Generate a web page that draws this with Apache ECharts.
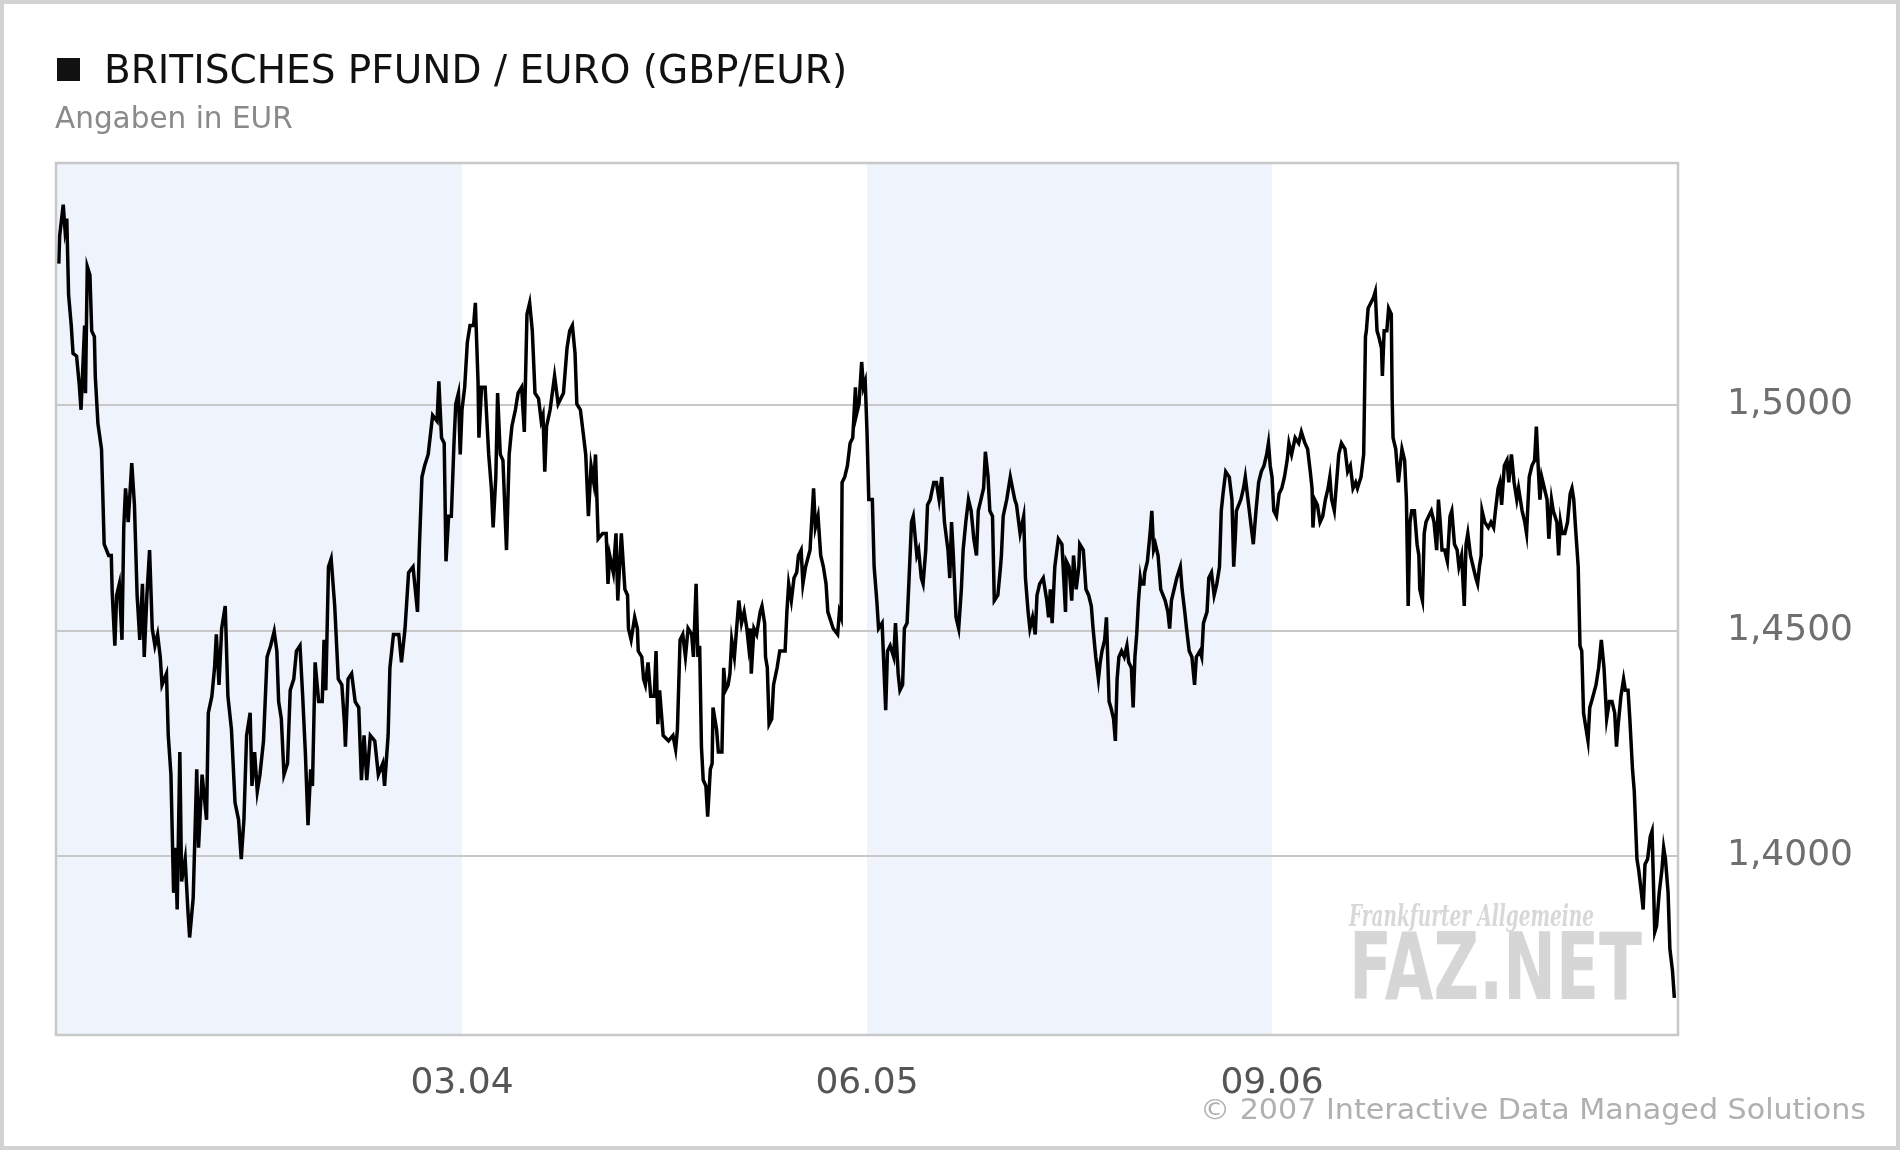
<!DOCTYPE html>
<html><head><meta charset="utf-8">
<script src="https://cdn.jsdelivr.net/npm/echarts@6/dist/echarts.min.js"></script>
<style>html,body{margin:0;padding:0;background:#fff}#c{width:1900px;height:1150px}</style>
</head><body><div id="c"></div>
<script>
// x values: days since start of the 5-year window (Dec 2002 - Dec 2007)
const xMaxDay = 1820;
const tickDays = [455, 910, 1365];
const tickLabels = ['03.04', '06.05', '09.06'];
const yTicks = [1.40, 1.45, 1.50];
const yMin = 1.3605, yMax = 1.5534;

const rates2003a = [[2,1.5313],[3,1.5375],[7,1.5444],[9,1.5388],[11,1.5413],[13,1.5245],[16,1.5176],[18,1.5114],[22,1.5108],[25,1.5045],[27,1.4989],[31,1.5176],[32,1.5026],[34,1.5307],[37,1.5288],[39,1.5164],[42,1.5151],[43,1.5064],[46,1.4958],[50,1.4902],[53,1.4691],[58,1.4666],[61,1.4666],[62,1.4585],[65,1.4466],[67,1.4578],[70,1.4603],[73,1.4479],[75,1.4728],[77,1.4815],[80,1.4740],[84,1.4871],[87,1.4778],[90,1.4578],[93,1.4479],[96,1.4603],[98,1.4441],[101,1.4578],[104,1.4678],[107,1.4504],[110,1.4466],[113,1.4491],[116,1.4441],[118,1.4379],[123,1.4404],[125,1.4267],[128,1.4180],[131,1.3918],[133,1.4018],[135,1.3881],[138,1.4230],[140,1.3943],[144,1.3993],[147,1.3881],[149,1.3819],[153,1.3906],[157,1.4192],[159,1.4018],[163,1.4180],[168,1.4080],[170,1.4317],[174,1.4354],[177,1.4417],[179,1.4491],[182,1.4379],[185,1.4504],[189,1.4554],[192,1.4354],[196,1.4280],[200,1.4118],[204,1.4080],[207,1.3993],[210,1.4080],[213,1.4267],[217,1.4317],[219,1.4155],[222,1.4230],[225,1.4143],[228,1.4180],[232,1.4255],[236,1.4441],[240,1.4466],[244,1.4498],[247,1.4454],[249,1.4342],[252,1.4304],[255,1.4180],[259,1.4205],[262,1.4367],[266,1.4392],[269,1.4454],[273,1.4466],[276,1.4354],[279,1.4230],[282,1.4068],[285,1.4192],[287,1.4155],[290,1.4429],[294,1.4342],[298,1.4342],[300,1.4479],[302,1.4367],[305,1.4641]];
const rates2003b = [[308,1.4659],[312,1.4554],[316,1.4392],[320,1.4379],[323,1.4292],[324,1.4242],[327,1.4392],[331,1.4404],[335,1.4342],[339,1.4329],[342,1.4168],[345,1.4267],[348,1.4168],[352,1.4267],[357,1.4255],[361,1.4180],[366,1.4205],[368,1.4155],[372,1.4267],[374,1.4417],[378,1.4491],[384,1.4491],[387,1.4429],[391,1.4504],[395,1.4628],[400,1.4641],[405,1.4541],[407,1.4678],[410,1.4840],[413,1.4865],[417,1.4890],[422,1.4977],[427,1.4964],[429,1.5052],[432,1.4927],[435,1.4915],[437,1.4653],[440,1.4753],[443,1.4753],[446,1.4915],[448,1.5002],[451,1.5026],[453,1.4890],[455,1.4989],[458,1.5039],[461,1.5139],[464,1.5176],[468,1.5176],[470,1.5226],[473,1.5052],[474,1.4927],[477,1.5039],[481,1.5039],[485,1.4890],[488,1.4815],[490,1.4728],[493,1.4840],[495,1.5026],[498,1.4890],[501,1.4877],[505,1.4678],[508,1.4890],[511,1.4952],[515,1.4989],[518,1.5026],[522,1.5039],[525,1.4940],[528,1.5201],[531,1.5226],[534,1.5164],[537,1.5026],[541,1.5014],[544,1.4964],[546,1.4977],[548,1.4852],[550,1.4952],[554,1.4989],[559,1.5064],[563,1.5002],[569,1.5026],[573,1.5126],[576,1.5164],[579,1.5176],[582,1.5114],[584,1.5002],[588,1.4989],[591,1.4940],[594,1.4890],[597,1.4753],[600,1.4865],[603,1.4828],[605,1.4890],[608,1.4703]];
const rates2004 = [[613,1.4715],[617,1.4715],[619,1.4603],[621,1.4666],[625,1.4628],[628,1.4715],[630,1.4566],[634,1.4715],[636,1.4715],[638,1.4591],[641,1.4578],[642,1.4504],[645,1.4479],[649,1.4529],[652,1.4504],[653,1.4454],[657,1.4441],[659,1.4392],[661,1.4379],[664,1.4429],[667,1.4354],[671,1.4354],[673,1.4454],[675,1.4292],[677,1.4367],[681,1.4267],[687,1.4255],[692,1.4267],[695,1.4236],[697,1.4280],[700,1.4479],[703,1.4491],[706,1.4441],[709,1.4504],[713,1.4491],[715,1.4441],[718,1.4603],[720,1.4441],[722,1.4466],[724,1.4242],[726,1.4168],[729,1.4155],[731,1.4087],[734,1.4192],[736,1.4205],[737,1.4329],[741,1.4280],[743,1.4230],[747,1.4230],[749,1.4417],[751,1.4367],[754,1.4379],[756,1.4404],[758,1.4479],[761,1.4441],[764,1.4516],[766,1.4566],[769,1.4516],[772,1.4541],[775,1.4504],[777,1.4466],[779,1.4504],[780,1.4404],[783,1.4504],[786,1.4491],[790,1.4541],[792,1.4554],[795,1.4516],[796,1.4441],[798,1.4417],[800,1.4292],[803,1.4304],[805,1.4379],[809,1.4417],[812,1.4454],[818,1.4454],[820,1.4541],[822,1.4603],[825,1.4566],[828,1.4616],[831,1.4628],[833,1.4666],[836,1.4678],[838,1.4603],[841,1.4641],[846,1.4678],[850,1.4815],[852,1.4728],[855,1.4753],[858,1.4666],[861,1.4641],[864,1.4603],[866,1.4541],[868,1.4541],[872,1.4504],[877,1.4491],[879,1.4541],[881,1.4529],[882,1.4828],[885,1.4840],[888,1.4865],[891,1.4915],[894,1.4927],[897,1.5039],[898,1.4977],[901,1.5002],[904,1.5095],[906,1.5039],[908,1.5052],[910,1.4940],[912,1.4790]];
const rates2005 = [[916,1.4790],[918,1.4641],[921,1.4566],[923,1.4504],[927,1.4516],[928,1.4466],[931,1.4323],[933,1.4454],[936,1.4466],[940,1.4441],[942,1.4516],[945,1.4404],[947,1.4367],[950,1.4379],[952,1.4504],[955,1.4516],[957,1.4603],[960,1.4740],[962,1.4753],[966,1.4666],[968,1.4678],[971,1.4616],[973,1.4603],[976,1.4678],[978,1.4778],[981,1.4790],[985,1.4828],[988,1.4828],[991,1.4790],[994,1.4840],[997,1.4740],[1001,1.4678],[1003,1.4616],[1005,1.4740],[1007,1.4666],[1010,1.4529],[1013,1.4504],[1016,1.4591],[1018,1.4678],[1021,1.4740],[1024,1.4790],[1027,1.4765],[1030,1.4703],[1031,1.4691],[1033,1.4666],[1035,1.4765],[1038,1.4790],[1041,1.4815],[1043,1.4896],[1046,1.4840],[1048,1.4765],[1051,1.4753],[1053,1.4566],[1057,1.4578],[1060,1.4641],[1061,1.4666],[1063,1.4753],[1067,1.4790],[1071,1.4840],[1073,1.4840],[1076,1.4790],[1078,1.4778],[1082,1.4715],[1086,1.4753],[1088,1.4616],[1091,1.4541],[1093,1.4504],[1096,1.4529],[1099,1.4491],[1101,1.4578],[1104,1.4603],[1108,1.4616],[1112,1.4566],[1114,1.4529],[1116,1.4591],[1118,1.4516],[1121,1.4641],[1125,1.4703],[1129,1.4691],[1131,1.4616],[1133,1.4541],[1134,1.4653],[1137,1.4641],[1140,1.4566],[1142,1.4666],[1145,1.4591],[1148,1.4641],[1149,1.4691],[1153,1.4678],[1156,1.4591],[1159,1.4578],[1162,1.4554],[1164,1.4504],[1167,1.4441],[1170,1.4392],[1172,1.4429],[1174,1.4454],[1177,1.4479],[1179,1.4529],[1182,1.4342],[1184,1.4329],[1187,1.4304],[1189,1.4255],[1191,1.4392],[1193,1.4441],[1196,1.4454],[1199,1.4441],[1202,1.4466],[1204,1.4429],[1207,1.4417],[1209,1.4329],[1211,1.4441],[1213,1.4491],[1215,1.4566],[1217,1.4616]];
const rates2006 = [[1218,1.4603],[1221,1.4603],[1222,1.4628],[1225,1.4653],[1228,1.4715],[1230,1.4765],[1232,1.4678],[1234,1.4691],[1237,1.4666],[1240,1.4591],[1245,1.4566],[1248,1.4541],[1250,1.4504],[1252,1.4566],[1255,1.4591],[1258,1.4616],[1262,1.4641],[1264,1.4591],[1267,1.4541],[1269,1.4504],[1272,1.4454],[1275,1.4441],[1278,1.4379],[1280,1.4441],[1284,1.4454],[1286,1.4441],[1288,1.4516],[1292,1.4541],[1294,1.4616],[1297,1.4628],[1300,1.4578],[1303,1.4603],[1306,1.4641],[1308,1.4765],[1310,1.4803],[1313,1.4852],[1317,1.4840],[1320,1.4790],[1322,1.4641],[1324,1.4715],[1325,1.4765],[1330,1.4790],[1333,1.4815],[1335,1.4840],[1338,1.4790],[1341,1.4740],[1344,1.4691],[1347,1.4765],[1350,1.4828],[1353,1.4852],[1356,1.4865],[1359,1.4890],[1361,1.4915],[1363,1.4865],[1365,1.4840],[1367,1.4765],[1370,1.4753],[1373,1.4803],[1376,1.4815],[1379,1.4840],[1382,1.4877],[1384,1.4915],[1387,1.4890],[1391,1.4927],[1395,1.4915],[1398,1.4940],[1402,1.4915],[1405,1.4902],[1408,1.4852],[1410,1.4815],[1411,1.4728],[1413,1.4790],[1416,1.4778],[1419,1.4740],[1422,1.4753],[1425,1.4790],[1428,1.4815],[1430,1.4840],[1432,1.4790],[1435,1.4765],[1438,1.4840],[1440,1.4890],[1443,1.4915],[1447,1.4902],[1450,1.4852],[1453,1.4865],[1456,1.4815],[1459,1.4828],[1461,1.4815],[1463,1.4828],[1465,1.4840],[1468,1.4890],[1470,1.5151],[1471,1.5164],[1473,1.5214],[1476,1.5226],[1479,1.5238],[1481,1.5251],[1483,1.5164],[1485,1.5151],[1488,1.5126],[1489,1.5064],[1491,1.5164],[1494,1.5164],[1496,1.5214],[1499,1.5201],[1500,1.5014],[1501,1.4927],[1504,1.4902],[1507,1.4828],[1511,1.4902],[1514,1.4877],[1516,1.4790],[1518,1.4554]];
const rates2007 = [[1520,1.4740],[1522,1.4765],[1525,1.4765],[1528,1.4691],[1530,1.4666],[1531,1.4591],[1534,1.4566],[1536,1.4715],[1538,1.4740],[1541,1.4753],[1544,1.4765],[1547,1.4740],[1550,1.4678],[1552,1.4790],[1554,1.4740],[1556,1.4678],[1559,1.4678],[1562,1.4653],[1565,1.4753],[1567,1.4765],[1570,1.4691],[1573,1.4678],[1575,1.4641],[1578,1.4666],[1581,1.4554],[1583,1.4691],[1585,1.4715],[1588,1.4666],[1591,1.4641],[1594,1.4616],[1596,1.4603],[1598,1.4641],[1600,1.4666],[1601,1.4765],[1604,1.4740],[1608,1.4728],[1611,1.4740],[1614,1.4728],[1616,1.4765],[1619,1.4815],[1621,1.4828],[1623,1.4778],[1626,1.4865],[1629,1.4877],[1631,1.4828],[1634,1.4890],[1637,1.4828],[1640,1.4790],[1642,1.4815],[1646,1.4765],[1649,1.4740],[1651,1.4715],[1654,1.4840],[1657,1.4865],[1660,1.4877],[1662,1.4952],[1664,1.4865],[1666,1.4790],[1668,1.4840],[1671,1.4815],[1674,1.4790],[1676,1.4703],[1679,1.4790],[1681,1.4765],[1685,1.4740],[1687,1.4666],[1689,1.4740],[1691,1.4715],[1694,1.4715],[1697,1.4740],[1700,1.4803],[1702,1.4815],[1704,1.4790],[1706,1.4728],[1709,1.4641],[1711,1.4466],[1713,1.4454],[1715,1.4317],[1717,1.4292],[1720,1.4255],[1722,1.4329],[1724,1.4342],[1726,1.4342],[1729,1.4379],[1732,1.4417],[1735,1.4479],[1738,1.4417],[1741,1.4304],[1744,1.4342],[1747,1.4342],[1750,1.4317],[1752,1.4242],[1754,1.4292],[1757,1.4354],[1760,1.4392],[1762,1.4367],[1765,1.4367],[1767,1.4304],[1770,1.4192],[1772,1.4143],[1775,1.3993],[1777,1.3968],[1780,1.3918],[1782,1.3881],[1784,1.3981],[1787,1.3993],[1790,1.4043],[1792,1.4055],[1795,1.3831],[1797,1.3844],[1800,1.3918],[1803,1.3968],[1805,1.4018],[1807,1.3993],[1810,1.3918],[1812,1.3794],[1815,1.3744],[1817,1.3685]];

const rateData = rates2003a.concat(rates2003b, rates2004, rates2005, rates2006, rates2007);

const FONT = '"DejaVu Sans", Verdana, sans-serif';
const chart = echarts.init(document.getElementById('c'), null, {renderer: 'canvas'});

function fitScale(text, font, width) {
  const ctx = document.createElement('canvas').getContext('2d');
  ctx.font = font;
  return width / ctx.measureText(text).width;
}
const fazFont = 'bold 92px "DejaVu Sans"';
const fazScale = fitScale('FAZ.NET', fazFont, 293);
const fraFont = 'italic bold 30px "DejaVu Serif"';
const fraScale = fitScale('Frankfurter Allgemeine', fraFont, 245);
const copyText = '\u00a9 2007 Interactive Data Managed Solutions';
const copyFont = '29px "DejaVu Sans"';
const copyScale = fitScale(copyText, copyFont, 666);

chart.setOption({
  animation: false,
  backgroundColor: '#ffffff',
  title: [
    {text: 'BRITISCHES PFUND / EURO (GBP/EUR)', left: 104, top: 50, padding: 0,
     textStyle: {fontFamily: FONT, fontSize: 39, fontWeight: 'normal', color: '#111111', lineHeight: 46}},
    {text: 'Angaben in EUR', left: 55, top: 103, padding: 0,
     textStyle: {fontFamily: FONT, fontSize: 29.5, fontWeight: 'normal', color: '#8a8a8a', lineHeight: 34}}
  ],
  grid: {left: 57, top: 164, width: 1620, height: 870, show: false},
  xAxis: {
    type: 'value', min: 0, max: xMaxDay,
    axisLine: {show: false}, axisTick: {show: false}, splitLine: {show: false},
    axisLabel: {
      customValues: tickDays,
      formatter: v => tickLabels[tickDays.indexOf(v)] || '',
      margin: 32, fontFamily: FONT, fontSize: 36, color: '#555555'
    }
  },
  yAxis: {
    type: 'value', position: 'right', min: yMin, max: yMax,
    axisLine: {show: false}, splitLine: {show: false},
    axisTick: {show: false, customValues: yTicks},
    axisLabel: {
      customValues: yTicks,
      formatter: v => v.toFixed(4).replace('.', ','),
      margin: 50, fontFamily: FONT, fontSize: 36, color: '#6f6f6f'
    }
  },
  series: [
    {
      type: 'line', data: rateData, z: 1, silent: true, showSymbol: false,
      lineStyle: {opacity: 0},
      markArea: {
        silent: true,
        itemStyle: {color: '#eef3fc'},
        data: [[{xAxis: 0}, {xAxis: tickDays[0]}], [{xAxis: tickDays[1]}, {xAxis: tickDays[2]}]]
      }
    },
    {
      type: 'line', data: rateData, z: 2, silent: true, showSymbol: false,
      lineStyle: {opacity: 0},
      markLine: {
        silent: true, symbol: 'none', label: {show: false},
        lineStyle: {color: '#c8c8c8', width: 2, type: 'solid'},
        data: yTicks.map(v => ({yAxis: v}))
      }
    },
    {
      type: 'line', name: 'GBP/EUR', data: rateData, z: 5,
      showSymbol: false, sampling: null,
      lineStyle: {color: '#000000', width: 3.5, join: 'miter'},
      emphasis: {disabled: true}
    }
  ],
  graphic: [
    {type: 'rect', silent: true, z: 100,
     shape: {x: 2, y: 2, width: 1896, height: 1146},
     style: {fill: null, stroke: '#d2d2d2', lineWidth: 4}},
    {type: 'rect', silent: true, z: 100,
     shape: {x: 56, y: 163, width: 1622, height: 872},
     style: {fill: null, stroke: '#c8c8c8', lineWidth: 2.5}},
    {type: 'rect', silent: true, z: 100,
     shape: {x: 57, y: 58, width: 23, height: 23},
     style: {fill: '#111111'}},
    {type: 'text', silent: true, z: 3, x: 1349, y: 903, scaleX: fraScale,
     style: {text: 'Frankfurter Allgemeine', font: fraFont, fill: '#d8d8d8', textVerticalAlign: 'top'}},
    {type: 'text', silent: true, z: 3, x: 1349, y: 929, scaleX: fazScale,
     style: {text: 'FAZ.NET', font: fazFont, fill: '#d6d6d6', textVerticalAlign: 'top'}},
    {type: 'text', silent: true, z: 100, x: 1866, y: 1111, scaleX: copyScale, originX: 0,
     style: {text: copyText, font: copyFont, fill: '#b0b0b0', textAlign: 'right', textVerticalAlign: 'middle'}}
  ]
});
</script>
</body></html>
